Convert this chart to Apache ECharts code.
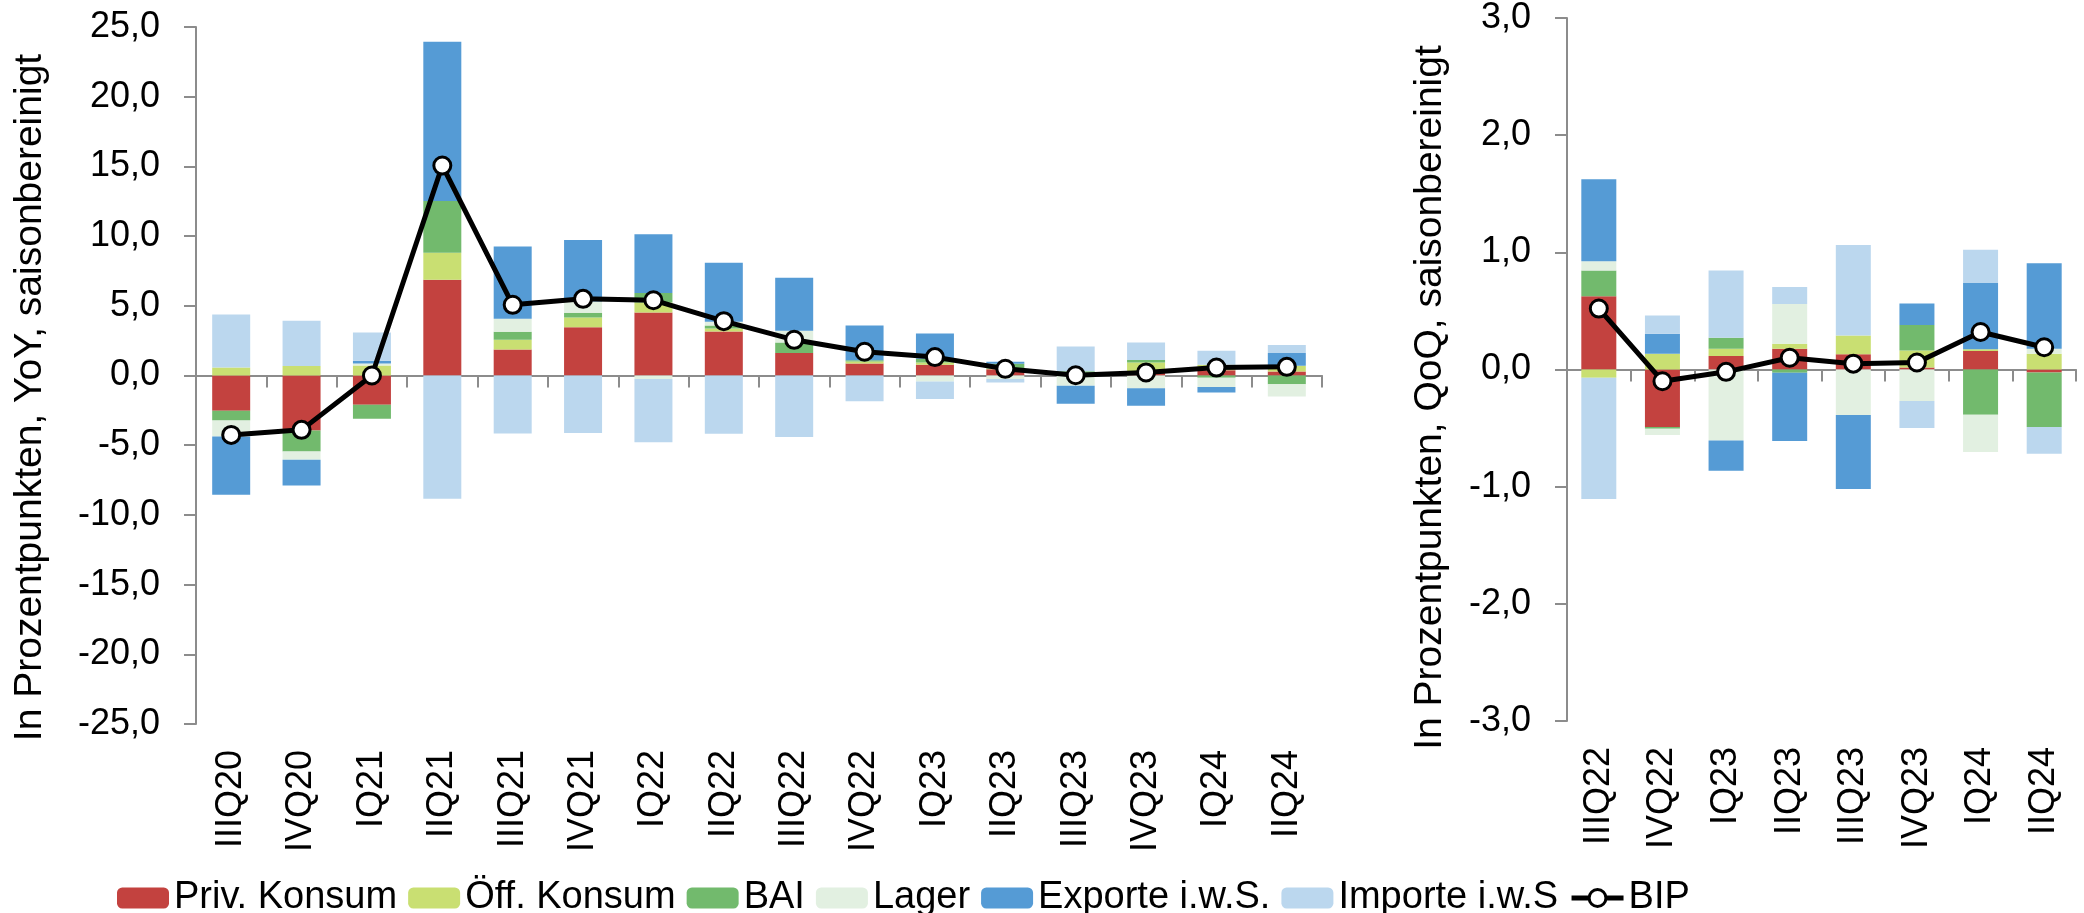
<!DOCTYPE html>
<html>
<head>
<meta charset="utf-8">
<title>BIP Beiträge</title>
<script src="https://cdn.jsdelivr.net/npm/echarts@6/dist/echarts.min.js"></script>
<style>
  html, body { margin: 0; padding: 0; background: #fff; }
  #chart { width: 2084px; height: 913px; }
</style>
</head>
<body>
<div id="chart"></div>
<script>
// Quartale links (YoY) und rechts (QoQ)
const quartaleYoY = ['IIIQ20', 'IVQ20', 'IQ21', 'IIQ21', 'IIIQ21', 'IVQ21', 'IQ22', 'IIQ22',
  'IIIQ22', 'IVQ22', 'IQ23', 'IIQ23', 'IIIQ23', 'IVQ23', 'IQ24', 'IIQ24']
const quartaleQoQ = ['IIIQ22', 'IVQ22', 'IQ23', 'IIQ23', 'IIIQ23', 'IVQ23', 'IQ24', 'IIQ24']

// Wachstumsbeiträge YoY, in Prozentpunkten
const privYoY = [-2.53, -3.95, -2.10, 6.86, 1.87, 3.47, 4.52, 3.16, 1.61, 0.86, 0.77, 0.45, 0.05, 0.30, 0.38, 0.29]
const oeffYoY = [0.57, 0.69, 0.72, 1.94, 0.69, 0.69, 0.72, 0.22, 0.00, 0.14, 0.16, 0.05, 0.15, 0.64, 0.40, 0.41]
const baiYoY = [-0.70, -1.50, -1.01, 3.71, 0.57, 0.34, 0.67, 0.20, 0.76, 0.10, 0.27, 0.35, 0.10, 0.18, -0.17, -0.62]
const lagerYoY = [-1.15, -0.60, 0.14, 0.00, 0.94, 0.80, -0.26, 0.28, 0.84, 0.00, -0.43, -0.25, -0.74, -0.91, -0.66, -0.89]
const exportYoY = [-4.18, -1.84, 0.19, 11.43, 5.18, 4.42, 4.23, 4.22, 3.80, 2.49, 1.81, 0.13, -1.29, -1.26, -0.39, 0.91]
const importYoY = [3.81, 3.23, 2.04, -8.85, -4.16, -4.13, -4.52, -4.18, -4.42, -1.84, -1.26, -0.25, 1.78, 1.25, 0.99, 0.57]
const bipYoY = [-4.26, -3.90, 0.00, 15.06, 5.07, 5.50, 5.40, 3.90, 2.56, 1.70, 1.32, 0.48, 0.02, 0.22, 0.57, 0.62]

// Wachstumsbeiträge QoQ
const privQoQ = [0.625, -0.49, 0.115, 0.177, 0.13, 0.017, 0.158, -0.025]
const oeffQoQ = [-0.07, 0.135, 0.062, 0.043, 0.16, 0.146, 0.014, 0.135]
const baiQoQ = [0.22, -0.015, 0.093, -0.028, 0.00, 0.217, -0.386, -0.465]
const lagerQoQ = [0.079, -0.055, -0.606, 0.338, -0.389, -0.268, -0.318, 0.042]
const exportQoQ = [0.70, 0.17, -0.259, -0.583, -0.631, 0.183, 0.566, 0.73]
const importQoQ = [-1.035, 0.155, 0.575, 0.146, 0.772, -0.231, 0.285, -0.228]
const bipQoQ = [0.52, -0.10, -0.02, 0.10, 0.05, 0.06, 0.32, 0.19]

// Achsen
const yTicksYoY = { min: -25, max: 25, interval: 5 }
const yTicksQoQ = { min: -3, max: 3, interval: 1 }

const names = ['Priv. Konsum', 'Öff. Konsum', 'BAI', 'Lager', 'Exporte i.w.S.', 'Importe i.w.S', 'BIP']
const colors = ['#C3423F', '#C9DF72', '#72BA6D', '#E2F0E1', '#559BD5', '#BBD7EE']

const font = 'Liberation Sans, Arial, sans-serif'
const axisGrey = '#8C8C8C'
const fmt = v => v.toFixed(1).replace('.', ',')

const chart = echarts.init(document.getElementById('chart'))

// eine Achse fuer Linie + Ticks bei Null, eine zweite nur fuer die Beschriftung unten
const makeXAxes = (cats, gridIndex) => [
  {
    type: 'category', gridIndex, data: cats, position: 'bottom',
    axisLine: { onZero: true, lineStyle: { color: axisGrey, width: 2 } },
    axisTick: { show: true, length: 12, lineStyle: { color: axisGrey, width: 2 } },
    axisLabel: { show: false }
  },
  {
    type: 'category', gridIndex, data: cats, position: 'bottom',
    axisLine: { show: false, onZero: false },
    axisTick: { show: false },
    axisLabel: { interval: 0, rotate: 90, margin: 26, color: '#000', fontSize: 36, fontFamily: font }
  }
]

const makeYAxis = (ticks, gridIndex, name, nameGap, shift) => ({
  type: 'value', gridIndex, ...ticks,
  name, nameLocation: 'middle', nameGap,
  nameTextStyle: { fontSize: 39, fontFamily: font, color: '#000', padding: [0, shift, 0, 0] },
  splitLine: { show: false },
  axisLine: { show: true, lineStyle: { color: axisGrey, width: 2 } },
  axisTick: { show: true, length: 12, lineStyle: { color: axisGrey, width: 2 } },
  axisLabel: { margin: 36, color: '#000', fontSize: 36, fontFamily: font, formatter: fmt }
})

const stackSeries = (arrs, axisIdx, stackName, barWidth) => arrs.map((data, i) => ({
  name: names[i], type: 'bar', stack: stackName,
  xAxisIndex: axisIdx, yAxisIndex: axisIdx / 2,
  data, barWidth,
  itemStyle: { color: colors[i] }
}))

const bipSeries = (data, axisIdx) => ({
  name: 'BIP', type: 'line', data,
  xAxisIndex: axisIdx, yAxisIndex: axisIdx / 2,
  z: 10,
  symbol: 'circle', symbolSize: 17,
  lineStyle: { color: '#000', width: 5 },
  itemStyle: { color: '#fff', borderColor: '#000', borderWidth: 3 }
})

const option = {
  animation: false,
  grid: [
    { left: 196, top: 27, width: 1126, height: 697 },
    { left: 1567, top: 11, width: 509, height: 710 }
  ],
  xAxis: [...makeXAxes(quartaleYoY, 0), ...makeXAxes(quartaleQoQ, 1)],
  yAxis: [
    makeYAxis(yTicksYoY, 0, 'In Prozentpunkten, YoY, saisonbereinigt', 146, 44),
    makeYAxis(yTicksQoQ, 1, 'In Prozentpunkten, QoQ, saisonbereinigt', 117, 56)
  ],
  legend: {
    data: names.slice(0, 6).concat([{
      name: 'BIP',
      itemStyle: { color: '#fff', borderColor: '#000', borderWidth: 3 },
      lineStyle: { color: '#000', width: 5 }
    }]),
    left: 112, top: 874,
    itemWidth: 52, itemHeight: 21, itemGap: 11,
    textStyle: { fontSize: 38, fontFamily: font, color: '#000' }
  },
  series: [
    ...stackSeries([privYoY, oeffYoY, baiYoY, lagerYoY, exportYoY, importYoY], 0, 'yoy', 38),
    bipSeries(bipYoY, 0),
    ...stackSeries([privQoQ, oeffQoQ, baiQoQ, lagerQoQ, exportQoQ, importQoQ], 2, 'qoq', 35),
    bipSeries(bipQoQ, 2)
  ]
}

chart.setOption(option)
</script>
</body>
</html>
